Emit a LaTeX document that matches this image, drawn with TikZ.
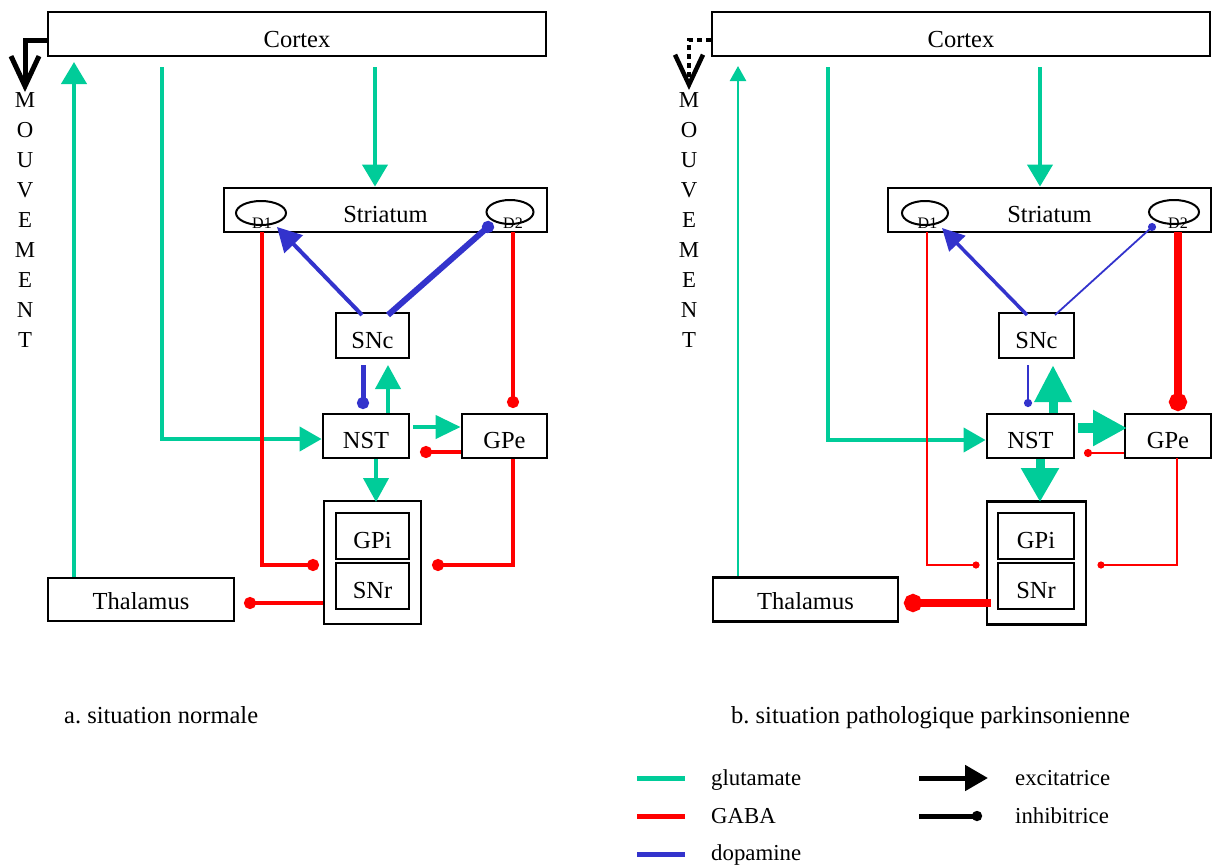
\documentclass[tikz,border=0pt]{standalone}
\usepackage{fontspec}
\setmainfont{Liberation Serif}
\usetikzlibrary{arrows.meta,shapes.geometric}
\definecolor{glucol}{RGB}{0,204,153}
\definecolor{gabacol}{RGB}{255,0,0}
\definecolor{dopacol}{RGB}{51,51,204}
\newcommand\fsbig{\fontsize{24.5}{29}\selectfont}
\newcommand\fsleg{\fontsize{22.8}{27}\selectfont}
\newcommand\fssmall{\fontsize{16}{19}\selectfont}
\frenchspacing
\tikzset{
  box/.style={draw, line width=2.8pt, fill=white, inner sep=0pt, font=\fsbig, text height=25pt, text depth=0pt},
  rec/.style={ellipse, draw, line width=2pt, inner sep=0pt, minimum height=24pt},
  rlbl/.style={font=\fssmall, inner sep=0pt},
  letter/.style={font=\fsleg, inner sep=0pt},
  leg/.style={font=\fsleg, inner sep=0pt, anchor=base west},
  glut/.style={draw=glucol, fill=glucol, line width=#1},
  gab/.style={draw=gabacol, fill=gabacol, line width=#1},
  dop/.style={draw=dopacol, fill=dopacol, line width=#1},
  ex/.style 2 args={-{Triangle[length=#1,width=#2]}},
  inh/.style={-{Circle[length=#1]}},
  mvt/.style={line width=#1, -{Straight Barb[length=30pt,width=28pt]}},
}
\begin{document}
\begin{tikzpicture}[x=1pt,y=-1pt]
\useasboundingbox (0,0) rectangle (1221,865);

% ================= LEFT PANEL =================
\node[box, minimum width=498pt, minimum height=44pt, text height=27pt] (aCtx) at (297,34) {Cortex};
\node[box, minimum width=323pt, minimum height=44pt] (aStr) at (385.5,210) {Striatum};
\node[rec, minimum width=50pt] (aD1) at (261,213) {};
\node[rlbl] (aD1t) at (262,223) {D1};
\node[rec, minimum width=47pt] (aD2) at (510,212) {};
\node[rlbl] (aD2t) at (513,223) {D2};
\node[box, minimum width=73pt, minimum height=45pt] (aSNc) at (372.5,335.5) {SNc};
\node[box, minimum width=86pt, minimum height=44pt] (aNST) at (366,436) {NST};
\node[box, minimum width=85pt, minimum height=44pt] (aGPe) at (504.5,436) {GPe};
\node[box, minimum width=97pt, minimum height=123pt] (aOut) at (372.5,562.5) {};
\node[box, minimum width=73pt, minimum height=46pt] (aGPi) at (372.5,536) {GPi};
\node[box, minimum width=73pt, minimum height=46pt] (aSNr) at (372.5,586) {SNr};
\node[box, minimum width=186pt, minimum height=43pt, text height=20pt] (aThal) at (141,599.5) {Thalamus};

\foreach \l [count=\i] in {M,O,U,V,E,M,E,N,T}
  \node[letter] (aL\i) at (25,70+30*\i) {\l};
\coordinate (aMv) at (25,92);
\draw[mvt=5pt] ([yshift=-6pt]aCtx.west) -- (25,40) -- (aMv);

\coordinate (aThUp) at (74,62);
\draw[glut=4pt, ex={22pt}{25pt}] (aThal.north -| aThUp) -- (aThUp);
\coordinate (aCxN) at (162,67);
\draw[glut=4pt, fill=none, ex={22pt}{24pt}] (aCxN) |- ([yshift=-3pt]aNST.west);
\coordinate (aCxS) at (375,67);
\draw[glut=4pt, ex={22pt}{25pt}] (aCxS) -- (aCxS |- aStr.north);

\coordinate (aD1s) at (262,232);
\coordinate (aGPiIn) at (319,565);
\draw[gab=4pt, fill=none, inh=12pt] (aD1s) |- (aGPiIn);
\coordinate (aD2s) at (513,232);
\coordinate (aGPeIn) at (513,408);
\draw[gab=4pt, inh=12pt] (aD2s) -- (aGPeIn);

\coordinate (aSncL) at (362,315);
\coordinate (aD1in) at (277,227);
\draw[dop=4pt, ex={24pt}{25pt}] (aSncL) -- (aD1in);
\coordinate (aSncR) at (388,315);
\coordinate (aD2in) at (492.5,223);
\draw[dop=6pt, inh=12pt] (aSncR) -- (aD2in);
\coordinate (aSncB) at (363,365);
\coordinate (aNSTdop) at (363,409);
\draw[dop=5pt, inh=12pt] (aSncB) -- (aNSTdop);

\coordinate (aSncIn) at (388,365);
\draw[glut=4pt, ex={24pt}{25pt}] (aNST.north -| aSncIn) -- (aSncIn);
\coordinate (aNSTr) at (413,427);
\draw[glut=4pt, ex={25pt}{23pt}] (aNSTr) -- (aNSTr -| aGPe.west);
\coordinate (aNSTin) at (420,452);
\draw[gab=4pt, inh=12pt] (aGPe.west |- aNSTin) -- (aNSTin);
\coordinate (aOutIn) at (376,502);
\draw[glut=4pt, ex={24pt}{25pt}] (aNST.south -| aOutIn) -- (aOutIn);
\coordinate (aGPiR) at (432,565);
\draw[gab=4pt, fill=none, inh=12pt] (aGPe.south -| aD2s) |- (aGPiR);
\coordinate (aThIn) at (244,603);
\draw[gab=4pt, inh=12pt] (aOut.west |- aThIn) -- (aThIn);

% ================= RIGHT PANEL =================
\node[box, minimum width=498pt, minimum height=44pt, text height=27pt] (bCtx) at (961,34) {Cortex};
\node[box, minimum width=323pt, minimum height=44pt] (bStr) at (1049.5,210) {Striatum};
\node[rec, minimum width=46pt] (bD1) at (925,213) {};
\node[rlbl] (bD1t) at (927.5,223) {D1};
\node[rec, minimum width=50pt] (bD2) at (1174,212) {};
\node[rlbl] (bD2t) at (1178,223) {D2};
\node[box, minimum width=75pt, minimum height=45pt] (bSNc) at (1036.5,335.5) {SNc};
\node[box, minimum width=87pt, minimum height=44pt] (bNST) at (1030.5,436) {NST};
\node[box, minimum width=86pt, minimum height=44pt] (bGPe) at (1168,436) {GPe};
\node[box, minimum width=99pt, minimum height=123pt] (bOut) at (1036.5,563) {};
\node[box, minimum width=76pt, minimum height=46pt] (bGPi) at (1036,536) {GPi};
\node[box, minimum width=76pt, minimum height=46pt] (bSNr) at (1036,586) {SNr};
\node[box, minimum width=185pt, minimum height=44pt, text height=20pt] (bThal) at (805.5,599.5) {Thalamus};

\foreach \l [count=\i] in {M,O,U,V,E,M,E,N,T}
  \node[letter] (bL\i) at (689,70+30*\i) {\l};
\coordinate (bMv) at (689,90);
\draw[mvt=4.5pt, dash pattern=on 4.5pt off 4.5pt] ([yshift=-6pt]bCtx.west) -- (689,40) -- (bMv);

\coordinate (bThUp) at (738,66);
\draw[glut=2.5pt, ex={15pt}{16pt}] (bThal.north -| bThUp) -- (bThUp);
\coordinate (bCxN) at (828,67);
\draw[glut=4pt, fill=none, ex={22pt}{24pt}] (bCxN) |- ([yshift=-4pt]bNST.west);
\coordinate (bCxS) at (1040,67);
\draw[glut=4pt, ex={22pt}{25pt}] (bCxS) -- (bCxS |- bStr.north);

\coordinate (bD1s) at (927,232);
\coordinate (bGPiIn) at (979.5,565);
\draw[gab=2.5pt, fill=none, inh=7pt] (bD1s) |- (bGPiIn);
\coordinate (bD2s) at (1178,232);
\coordinate (bGPeIn) at (1178,411);
\draw[gab=8pt, inh=18pt] (bD2s) -- (bGPeIn);

\coordinate (bSncL) at (1027,315);
\coordinate (bD1in) at (942,228);
\draw[dop=3.5pt, ex={22pt}{22pt}] (bSncL) -- (bD1in);
\coordinate (bSncR) at (1055,315);
\coordinate (bD2in) at (1155,224.3);
\draw[dop=1.8pt, inh=8pt] (bSncR) -- (bD2in);
\coordinate (bSncB) at (1028,365);
\coordinate (bNSTdop) at (1028,407);
\draw[dop=2.5pt, inh=8pt] (bSncB) -- (bNSTdop);

\coordinate (bSncIn) at (1053,365);
\draw[glut=9pt, ex={37pt}{35pt}] (bNST.north -| bSncIn) -- (bSncIn);
\coordinate (bNSTr) at (1078,428);
\coordinate (bGPeL) at (1127,428);
\draw[glut=10pt, ex={34pt}{34pt}] (bNSTr) -- (bGPeL);
\coordinate (bNSTin) at (1084,453);
\draw[gab=2.5pt, inh=8pt] (bGPe.west |- bNSTin) -- (bNSTin);
\coordinate (bOutIn) at (1040,502);
\draw[glut=9pt, ex={34pt}{36pt}] (bNST.south -| bOutIn) -- (bOutIn);
\coordinate (bGPeB) at (1177,458);
\coordinate (bGPiR) at (1097.5,565);
\draw[gab=2.5pt, fill=none, inh=7pt] (bGPeB) |- (bGPiR);
\coordinate (bSNrL) at (991,603);
\coordinate (bThIn) at (904,603);
\draw[gab=8pt, inh=18pt] (bSNrL) -- (bThIn);

% ================= CAPTIONS & LEGEND =================
\node[font=\fsbig, inner sep=0pt, anchor=base west] (capA) at (64,723) {a. situation normale};
\node[font=\fsbig, inner sep=0pt, anchor=base west] (capB) at (731,723) {b. situation pathologique parkinsonienne};

\draw[glucol, line width=5pt] (637,778) -- (685,778);
\node[leg] (lgGlu) at (711,785) {glutamate};
\draw[gabacol, line width=5pt] (637,816) -- (685,816);
\node[leg] (lgGaba) at (711,823) {GABA};
\draw[dopacol, line width=5pt] (637,854) -- (685,854);
\node[leg] (lgDopa) at (711,860) {dopamine};

\draw[line width=5pt, ex={23pt}{25pt}] (919,778) -- (988,778);
\node[leg] (lgExc) at (1015,785) {excitatrice};
\draw[line width=5pt, inh=10pt] (919,816) -- (982,816);
\node[leg] (lgInh) at (1015,823) {inhibitrice};
\end{tikzpicture}
\end{document}
